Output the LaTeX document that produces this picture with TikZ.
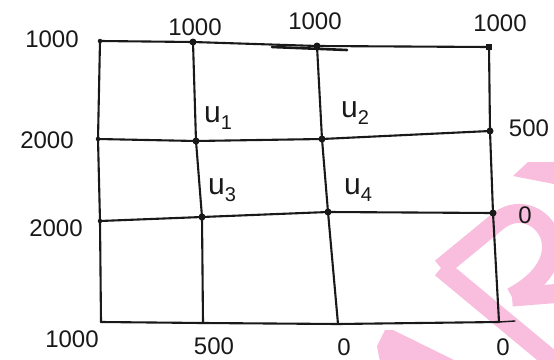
\documentclass[tikz,border=0pt]{standalone}
\usepackage{fontspec}
\setmainfont{Liberation Sans}
\definecolor{wmpink}{RGB}{249,190,221}
\definecolor{ink}{RGB}{25,25,25}
\begin{document}
\begin{tikzpicture}[x=1pt,y=-1pt,
  gridline/.style={line width=2.1pt, line cap=round, line join=round, draw=ink},
  dotm/.style={circle, fill=ink, inner sep=0pt, minimum size=7pt},
  smalldot/.style={circle, fill=ink, inner sep=0pt, minimum size=4.5pt},
  lbl/.style={font=\fontsize{24}{24}\selectfont, text=ink, inner sep=0pt},
  ulbl/.style={font=\fontsize{30}{30}\selectfont, text=ink, inner sep=0pt},
  wm/.style={draw=wmpink, line width=19pt}]
\useasboundingbox (0,0) rectangle (554,359);
\fill[white] (0,0) rectangle (554,359);
% watermark
\begin{scope}
\clip (0,0) rectangle (554,359);
\draw[wm] (441,268) -- (570,375);
\draw[wm] (441,268) -- (497,222) .. controls (535,190) and (590,255) .. (512,297);
\draw[wm] (512,297) -- (575,292);
\fill[wmpink] (513,176) -- (528,162) -- (554,162) -- (554,184) -- cycle;
\fill[wmpink] (377,346) -- (385,330) -- (393,330) -- (458,362) -- (380,362) -- cycle;
\end{scope}
% grid points
\coordinate (a1) at (100,41);
\coordinate (a2) at (193,42);
\coordinate (a3) at (317,46);
\coordinate (a4) at (489,47);
\coordinate (b1) at (98,139);
\coordinate (b2) at (196,141);
\coordinate (b3) at (322,139);
\coordinate (b4) at (490,131);
\coordinate (c1) at (100,221);
\coordinate (c2) at (202,217);
\coordinate (c3) at (328,212);
\coordinate (c4) at (493,213);
\coordinate (d1) at (101,322);
\coordinate (d2) at (203,323);
\coordinate (d3) at (338,324);
\coordinate (d4) at (499,322);
\coordinate (t1) at (272,47);
\coordinate (t2) at (347,50);
\coordinate (e1) at (515,321);
% rows
\draw[gridline] (a1) -- (a2) -- (a3) -- (a4);
\draw[gridline] (b1) -- (b2) -- (b3) -- (b4);
\draw[gridline] (c1) -- (c2) -- (c3) -- (c4);
\draw[gridline] (d1) -- (d2) -- (d3) -- (d4);
% columns
\draw[gridline] (a1) -- (b1) -- (c1) -- (d1);
\draw[gridline] (a2) -- (b2) -- (c2) -- (d2);
\draw[gridline] (a3) -- (b3) -- (c3) -- (d3);
\draw[gridline] (a4) -- (b4) -- (c4) -- (d4);
% extra strokes
\draw[gridline, line width=2.6pt] (t1) -- (t2);
\draw[gridline, line width=1.4pt] (d4) -- (e1);
% dots
\foreach \p in {a2,a3,b2,b3,b4,c2,c3,c4}{\node[dotm] at (\p) {};}
\node[rectangle, fill=ink, inner sep=0pt, minimum size=6.5pt] at (a4) {};
\foreach \p in {a1,b1,c1}{\node[smalldot] at (\p) {};}
% labels
\node[lbl] (l1) at (52,39) {1000};
\node[lbl] (l2) at (195,27) {1000};
\node[lbl] (l3) at (315,21) {1000};
\node[lbl] (l4) at (500,23) {1000};
\node[lbl] (l5) at (47,140) {2000};
\node[lbl] (l6) at (529,128) {500};
\node[lbl] (l7) at (56,228) {2000};
\node[lbl] (l8) at (525,215) {0};
\node[lbl] (l9) at (72,339) {1000};
\node[lbl] (l10) at (214,346) {500};
\node[lbl] (l11) at (344,347) {0};
\node[lbl] (l12) at (503,347) {0};
\node[ulbl] (u1) at (218,118) {u\raisebox{-0.25em}{\fontsize{20}{20}\selectfont 1}};
\node[ulbl] (u2) at (355,113) {u\raisebox{-0.25em}{\fontsize{20}{20}\selectfont 2}};
\node[ulbl] (u3) at (222,190) {u\raisebox{-0.25em}{\fontsize{20}{20}\selectfont 3}};
\node[ulbl] (u4) at (358,190) {u\raisebox{-0.25em}{\fontsize{20}{20}\selectfont 4}};
\end{tikzpicture}
\end{document}
